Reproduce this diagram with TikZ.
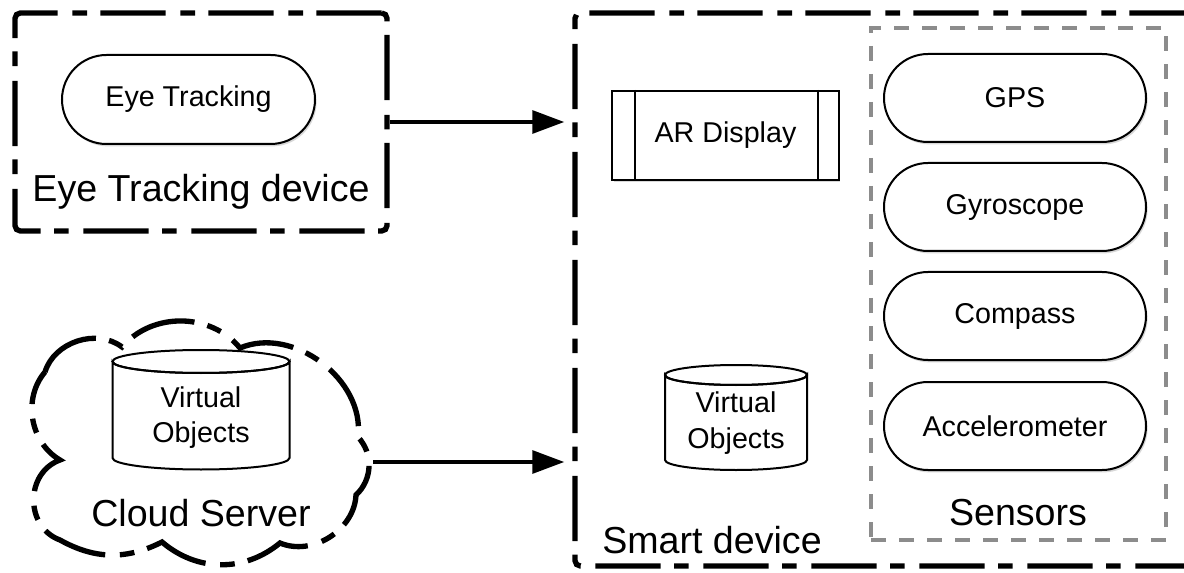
\documentclass[tikz,border=0pt]{standalone}
\usepackage{fontspec}
\setmainfont{Liberation Sans}
\usetikzlibrary{shapes.misc,arrows.meta,calc,shadows}
\begin{document}
\begin{tikzpicture}[x=0.75pt,y=-0.75pt,
  bigdash/.style={line width=4pt, dash pattern=on 49pt off 10pt on 11pt off 11pt, rounded corners=4pt},
  container/.style={draw, bigdash, inner sep=0pt},
  sensbox/.style={draw=black!45, line width=2.6pt, dash pattern=on 11pt off 10pt, inner sep=0pt},
  pill/.style={rounded rectangle, draw, fill=white, line width=1.5pt, inner sep=0pt,
     font=\fontsize{21.5}{24}\selectfont,
     drop shadow={shadow xshift=1.2pt, shadow yshift=-1.8pt, opacity=0.3}},
  bigtext/.style={font=\fontsize{28.2}{32}\selectfont, inner sep=0pt},
  smalltext/.style={font=\fontsize{21.5}{27}\selectfont, inner sep=0pt, align=center},
  cyl/.style={draw, line width=1.5pt, fill=white},
  arr/.style={line width=3pt, -{Triangle[length=24pt,width=17pt]}, shorten >=6pt},
]
\useasboundingbox (0,0) rectangle (1184,573);
\clip (0,0) rectangle (1184,573);
\fill[white] (0,0) rectangle (1184,573);

% Eye tracking device
\node[container, minimum width=279pt, minimum height=163.5pt] (etd) at (201,122) {};
\node[pill, minimum width=189.75pt, minimum height=66.75pt] (eye) at (188.5,99.5) {Eye Tracking};
\node[bigtext] (etdl) at (201,192) {Eye Tracking device};

% Smart device
\node[container, minimum width=468.75pt, minimum height=414.75pt] (smart) at (887.5,289.5) {};
\node[bigtext] (smartl) at (712,540) {Smart device};

% AR display
\node[draw, fill=white, line width=1.5pt, minimum width=170pt, minimum height=66.75pt, inner sep=0pt,
      font=\fontsize{21.5}{24}\selectfont,
      drop shadow={shadow xshift=1.2pt, shadow yshift=-1.8pt, opacity=0.3}] (ar) at (725.5,135.5) {AR Display};
\draw[line width=1.5pt] ($(ar.north west)+(24,0)$) -- ($(ar.south west)+(24,0)$);
\draw[line width=1.5pt] ($(ar.north east)+(-22,0)$) -- ($(ar.south east)+(-22,0)$);

% Smart device virtual objects
\draw[cyl] (665,375) -- (665,460) arc[start angle=180,end angle=0,x radius=71,y radius=10] -- (807,375) arc[start angle=0,end angle=180,x radius=71,y radius=10] -- cycle;
\draw[line width=1.5pt] (736,375) ellipse[x radius=71,y radius=10];
\node[smalltext] (vo2) at (736,423.5) {Virtual\\Objects};

% Sensors
\node[sensbox, minimum width=221.25pt, minimum height=384pt] (sens) at (1018.5,284) {};
\node[pill, minimum width=196.5pt, minimum height=66pt] (gps) at (1015,98) {GPS};
\node[pill, minimum width=196.5pt, minimum height=66pt] (gyro) at (1015,207) {Gyroscope};
\node[pill, minimum width=196.5pt, minimum height=66pt] (comp) at (1015,316) {Compass};
\node[pill, minimum width=196.5pt, minimum height=66pt] (acc) at (1015,426) {Accelerometer};
\node[bigtext] (sensl) at (1018,513) {Sensors};

% Cloud server
\draw[bigdash, rounded corners=0pt]
  (45,372) to[bend left=55] (122,347)
  to[bend left=50] (240,348)
  to[bend left=60] (358,437)
  to[bend left=45] (356,495)
  to[bend left=55] (280,543)
  to[bend left=40] (162,542)
  to[bend left=28] (60,540)
  to[bend left=70, looseness=1.2] (60,460)
  to[bend left=50] (45,372);
\draw[cyl] (112.5,361.5) -- (112.5,458) arc[start angle=180,end angle=0,x radius=88.5,y radius=11.5] -- (289.5,361.5) arc[start angle=0,end angle=180,x radius=88.5,y radius=11.5] -- cycle;
\draw[line width=1.5pt] (201,361.5) ellipse[x radius=88.5,y radius=11.5];
\node[smalltext, font=\fontsize{21.5}{26}\selectfont] (vo1) at (201,417.5) {Virtual\\Objects};
\node[bigtext] (cloudl) at (201,513) {Cloud Server};

% Arrows
\coordinate (cs) at (373,462);
\draw[arr] (etd.east) -- (smart.west |- etd.east);
\draw[arr] (cs) -- (smart.west |- cs);
\end{tikzpicture}
\end{document}
